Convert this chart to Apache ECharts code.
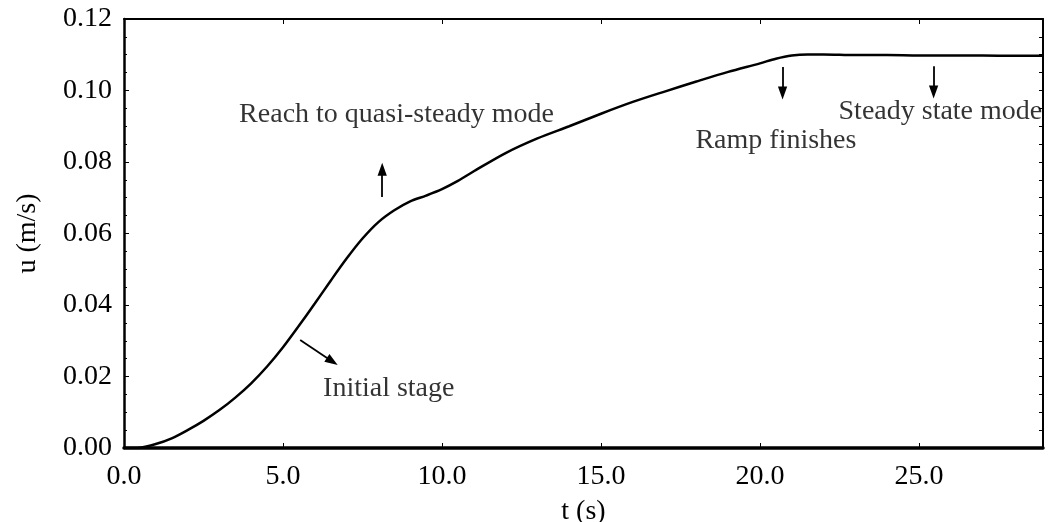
<!DOCTYPE html>
<html>
<head>
<meta charset="utf-8">
<script src="https://cdn.jsdelivr.net/npm/echarts@6/dist/echarts.min.js"></script>
<style>
html,body{margin:0;padding:0;background:#fff;}
#chart{width:1053px;height:522px;}
</style>
</head>
<body>
<div id="chart"></div>
<script>
// ---- data ----
var tValues = [0, 0.5, 1.0, 1.5, 2.0, 2.5, 3.0, 3.5, 4.0, 4.5, 5.0, 5.5, 6.0, 6.5, 7.0, 7.5, 8.0, 8.5, 9.0, 9.5, 10.0, 10.5, 11, 12, 13, 14, 15, 16, 17, 18, 19, 20, 20.5, 21, 21.5, 22, 23, 24, 25, 26, 27, 28, 28.9];
var uValues = [0, 0.0001, 0.0011, 0.0027, 0.0050, 0.0076, 0.0106, 0.0141, 0.0181, 0.0228, 0.0282, 0.0342, 0.0404, 0.0468, 0.0530, 0.0586, 0.0632, 0.0665, 0.0690, 0.0706, 0.0724, 0.0747, 0.0774, 0.0825, 0.0866, 0.0900, 0.0935, 0.0968, 0.0997, 0.1025, 0.1052, 0.1076, 0.1089, 0.1098, 0.1101, 0.1101, 0.1099, 0.1099, 0.1098, 0.1098, 0.1098, 0.1097, 0.1097];
var xTickLabels = ['0.0', '5.0', '10.0', '15.0', '20.0', '25.0'];
var yTickLabels = ['0.00', '0.02', '0.04', '0.06', '0.08', '0.10', '0.12'];
var annotationTexts = ['Reach to quasi-steady mode', 'Initial stage', 'Ramp finishes', 'Steady state mode'];
var annotationT = [3.62, 6.26, 17.97, 22.47];
var annotationU = [0.0933, 0.0165, 0.0861, 0.0942];
// arrows: start and end (end = arrow head centre)
var arrowStartT = [8.12, 5.54, 20.71, 25.46];
var arrowStartU = [0.0702, 0.0302, 0.1066, 0.1068];
var arrowEndT = [8.12, 6.55, 20.71, 25.46];
var arrowEndU = [0.0780, 0.0242, 0.0993, 0.0996];

var xMax = 28.9;
var FONT = '"Liberation Serif", "Times New Roman", serif';

var curve = tValues.map(function (t, i) { return [t, uValues[i]]; });
var annData = annotationTexts.map(function (s, i) { return [annotationT[i], annotationU[i], s]; });
var arrows = arrowStartT.map(function (t, i) {
  return [{ coord: [t, arrowStartU[i]] }, { coord: [arrowEndT[i], arrowEndU[i]] }];
});

var chart = echarts.init(document.getElementById('chart'), null, { renderer: 'canvas' });
chart.setOption({
  animation: false,
  backgroundColor: '#fff',
  grid: { left: 124, right: 10, top: 19, bottom: 74, containLabel: false, outerBoundsMode: 'none' },
  xAxis: [{
    type: 'value', position: 'bottom', min: 0, max: xMax, interval: 5,
    name: 't (s)', nameLocation: 'middle', nameGap: 50,
    nameTextStyle: { fontFamily: FONT, fontSize: 28, color: '#000' },
    axisLine: { show: true, onZero: false, lineStyle: { color: '#000', width: 3.5 } },
    axisTick: { show: true, inside: true, length: 5, lineStyle: { color: '#000', width: 1 } },
    axisLabel: {
      fontFamily: FONT, fontSize: 28, color: '#000', margin: 15, showMaxLabel: false,
      formatter: function (v) { var i = Math.round(v / 5); return (Math.abs(v - i * 5) < 1e-9 && xTickLabels[i]) ? xTickLabels[i] : ''; }
    },
    splitLine: { show: false }
  }, {
    type: 'value', position: 'top', min: 0, max: xMax, interval: 5,
    axisLine: { show: true, onZero: false, lineStyle: { color: '#000', width: 2 } },
    axisTick: { show: true, inside: true, length: 5, lineStyle: { color: '#000', width: 1 } },
    axisLabel: { show: false },
    splitLine: { show: false }
  }],
  yAxis: [{
    type: 'value', position: 'left', min: 0, max: 0.12, interval: 0.02,
    name: 'u (m/s)', nameLocation: 'middle', nameGap: 82, nameRotate: 90,
    nameTextStyle: { fontFamily: FONT, fontSize: 28, color: '#000' },
    axisLine: { show: true, onZero: false, lineStyle: { color: '#000', width: 2.5 } },
    axisTick: { show: true, inside: true, length: 5, lineStyle: { color: '#000', width: 1 } },
    minorTick: { show: true, splitNumber: 4, length: 3, lineStyle: { color: '#000', width: 1 } },
    axisLabel: {
      fontFamily: FONT, fontSize: 28, color: '#000', margin: 12,
      formatter: function (v) { var i = Math.round(v / 0.02); return yTickLabels[i] || ''; }
    },
    splitLine: { show: false }, minorSplitLine: { show: false }
  }, {
    type: 'value', position: 'right', min: 0, max: 0.12, interval: 0.005,
    axisLine: { show: true, onZero: false, lineStyle: { color: '#000', width: 2 } },
    axisTick: { show: true, inside: true, length: 4, lineStyle: { color: '#000', width: 1 } },
    axisLabel: { show: false },
    splitLine: { show: false }
  }],
  series: [{
    type: 'line', xAxisIndex: 0, yAxisIndex: 0,
    data: curve, smooth: 0.3, showSymbol: false, symbol: 'none',
    lineStyle: { color: '#000', width: 2.5 },
    silent: true, clip: true,
    markLine: {
      silent: true, animation: false,
      symbol: ['none', 'path://M0,0L5,14L-5,14Z'], symbolSize: 13, symbolKeepAspect: true,
      label: { show: false },
      itemStyle: { color: '#000' },
      lineStyle: { color: '#000', width: 1.8, type: 'solid' },
      emphasis: { disabled: true },
      data: arrows
    }
  }, {
    type: 'scatter', xAxisIndex: 0, yAxisIndex: 0,
    data: annData, symbolSize: 0, silent: true,
    label: {
      show: true, position: [0, 0], align: 'left', verticalAlign: 'middle',
      fontFamily: FONT, fontSize: 28, color: '#000',
      formatter: function (p) { return p.data[2]; }
    }
  }, {
    type: 'line', xAxisIndex: 1, yAxisIndex: 1, data: [], silent: true, showSymbol: false
  }]
});
</script>
</body>
</html>
